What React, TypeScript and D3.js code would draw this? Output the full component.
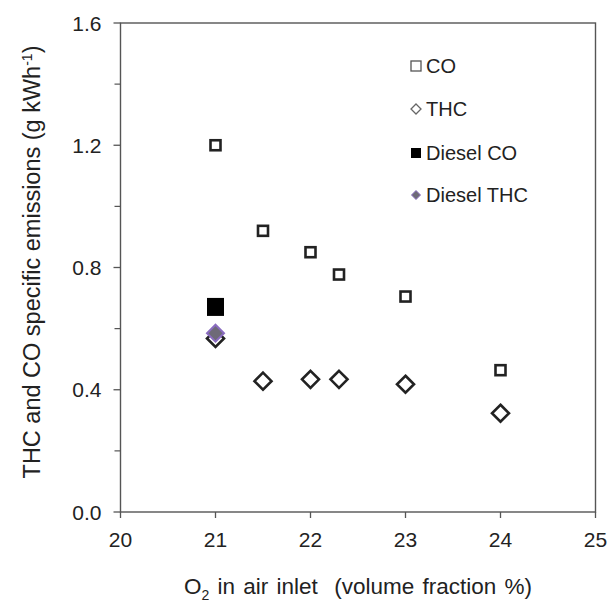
import React from "react";
import * as d3 from "d3";

const o2 = [21, 21.5, 22, 22.3, 23, 24];
const coValues = [1.2, 0.92, 0.85, 0.777, 0.705, 0.464];
const thcValues = [0.568, 0.428, 0.434, 0.434, 0.418, 0.323];
const dieselO2 = [21];
const dieselCO = [0.671];
const dieselTHC = [0.585];
const xTicks = [20, 21, 22, 23, 24, 25];
const yTicks = [0, 0.4, 0.8, 1.2, 1.6];
const yMinor = [0.2, 0.6, 1.0, 1.4];
const legendLabels = ["CO", "THC", "Diesel CO", "Diesel THC"];

const W = 610, H = 602;
const left = 120.5, right = 595.5, top = 23, bottom = 512;

export default function App() {
  const x = d3.scaleLinear().domain([20, 25]).range([left, right]);
  const y = d3.scaleLinear().domain([0, 1.6]).range([bottom, top]);
  const font = "'Liberation Sans', Arial, sans-serif";
  const axisColor = "#555";
  const diamond = (cx: number, cy: number, r: number) =>
    `M${cx},${cy - r}L${cx + r},${cy}L${cx},${cy + r}L${cx - r},${cy}Z`;

  const legendY = [66, 109, 153, 195];
  const lx = 416;

  return (
    <svg width={W} height={H} style={{ position: "absolute", left: 0, top: 0 }} fontFamily={font}>
      <rect x={0} y={0} width={W} height={H} fill="#fff" />
      <rect x={left} y={top} width={right - left} height={bottom - top} fill="none" stroke={axisColor} strokeWidth={1.4} />
      {yTicks.map((t) => (
        <g key={"y" + t}>
          <line x1={left - 7} x2={left} y1={y(t)} y2={y(t)} stroke={axisColor} strokeWidth={1.3} />
          <text x={left - 19} y={y(t)} dy="0.36em" textAnchor="end" fontSize={21} fill="#222">{t.toFixed(1)}</text>
        </g>
      ))}
      {yMinor.map((t) => (
        <line key={"ym" + t} x1={left - 6} x2={left} y1={y(t)} y2={y(t)} stroke={axisColor} strokeWidth={1.2} />
      ))}
      {xTicks.map((t) => (
        <g key={"x" + t}>
          <line x1={x(t)} x2={x(t)} y1={bottom} y2={bottom + 6} stroke={axisColor} strokeWidth={1.3} />
          <text x={x(t)} y={bottom + 35} textAnchor="middle" fontSize={21} fill="#222">{t}</text>
        </g>
      ))}
      <text transform={`translate(40,262) rotate(-90)`} textAnchor="middle" fontSize={23.5} fill="#222">
        THC and CO specific emissions (g kWh<tspan dy="-8" fontSize={14}>-1</tspan><tspan dy="8">)</tspan>
      </text>
      <text x={358} y={594} textAnchor="middle" fontSize={22.5} fill="#222" xmlSpace="preserve" wordSpacing={2}>
        O<tspan dy="6" fontSize={14}>2</tspan><tspan dy="-6"> in air inlet  (volume fraction %)</tspan>
      </text>

      {o2.map((v, i) => (
        <rect key={"co" + i} x={x(v) - 5} y={y(coValues[i]) - 5} width={10} height={10} fill="#fff" stroke="#222" strokeWidth={2.6} />
      ))}
      {o2.map((v, i) => (
        <path key={"thc" + i} d={diamond(x(v), y(thcValues[i]), 8.5)} fill="#fff" stroke="#222" strokeWidth={2.6} />
      ))}
      {dieselO2.map((v, i) => (
        <rect key={"dco" + i} x={x(v) - 8.5} y={y(dieselCO[i]) - 9} width={17} height={18} fill="#000" />
      ))}
      {dieselO2.map((v, i) => (
        <path key={"dthc" + i} d={diamond(x(v), y(dieselTHC[i]), 8.5)} fill="#6e6a78" stroke="#8a6cc0" strokeWidth={2} />
      ))}

      {legendLabels.map((lab, i) => (
        <g key={"lg" + i}>
          {i === 0 && <rect x={lx - 5} y={legendY[i] - 5} width={10} height={10} fill="#fff" stroke="#555" strokeWidth={1.3} />}
          {i === 1 && <path d={diamond(lx, legendY[i], 5)} fill="#fff" stroke="#666" strokeWidth={1.3} />}
          {i === 2 && <rect x={lx - 5} y={legendY[i] - 5} width={10} height={10} fill="#000" />}
          {i === 3 && <path d={diamond(lx, legendY[i], 4.5)} fill="#6e6a78" stroke="#8a6cc0" strokeWidth={1} />}
          <text x={lx + 10} y={legendY[i]} dy="0.36em" fontSize={20} fill="#222">{lab}</text>
        </g>
      ))}
    </svg>
  );
}
